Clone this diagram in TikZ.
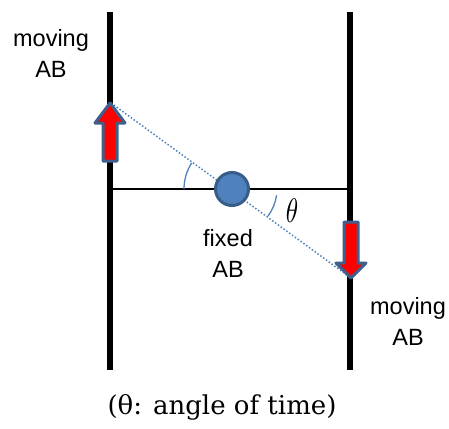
\documentclass[tikz,border=0pt]{standalone}
\usepackage{fontspec}
\setmainfont{Liberation Sans}
\newfontfamily\capfont{DejaVu Serif}
\definecolor{abfill}{HTML}{4F81BD}
\definecolor{abline}{HTML}{385D8A}
\definecolor{arline}{HTML}{3F5F8C}
\begin{document}
\begin{tikzpicture}[x=1pt,y=-1pt,
  rail/.style={line width=6pt,black},
  axis/.style={line width=1.8pt,black},
  ray/.style={line width=1.5pt,color=abfill,dotted},
  arc/.style={line width=1.3pt,color=abfill},
  arrowbox/.style={fill=red,draw=arline,line width=3pt,line join=round},
  lbl/.style={font=\fontsize{23.5}{31}\selectfont,align=center,inner sep=0pt}]
\useasboundingbox (0,0) rectangle (449,428);
% rails
\coordinate (lt) at (110,12); \coordinate (lb) at (110,370);
\coordinate (rt) at (350,12); \coordinate (rb) at (350,370);
\draw[rail] (lt) -- (lb);
\draw[rail] (rt) -- (rb);
\coordinate (hl) at (110,189); \coordinate (hr) at (350,189);
\draw[axis] (hl) -- (hr);
% ray
\coordinate (ptA) at (111,103);
\coordinate (ptB) at (351,278);
\draw[ray] (ptA) -- (ptB);
% angle arcs
\coordinate (c) at (232,189);
\draw[arc] (c) ++(180:48) arc[start angle=180,end angle=213,radius=48];
\draw[arc] (c) ++(8:45) arc[start angle=8,end angle=37,radius=45];
% fixed AB
\node[circle,minimum size=33pt,inner sep=0pt,fill=abfill,draw=abline,line width=3pt] (ab) at (c) {};
% arrows
\draw[arrowbox] (110,103) -- (125,123) -- (117,123) -- (117,161) -- (103,161) -- (103,123) -- (95,123) -- cycle;
\draw[arrowbox] (351,278) -- (366,263) -- (358,263) -- (358,222) -- (344,222) -- (344,263) -- (336,263) -- cycle;
% labels
\node[inner sep=0pt,xscale=2.5,yscale=3.4] (theta) at (292,211) {$\theta$};
\node[lbl,anchor=base] (m1) at (51,77) {moving\\AB};
\node[lbl,anchor=base] (fx) at (228,277) {fixed\\AB};
\node[lbl,anchor=base] (m2) at (408,345) {moving\\AB};
\node[inner sep=0pt,anchor=base] (cap) at (222,414) {\capfont\fontsize{26}{30}\selectfont(θ: angle of time)};
\end{tikzpicture}
\end{document}
